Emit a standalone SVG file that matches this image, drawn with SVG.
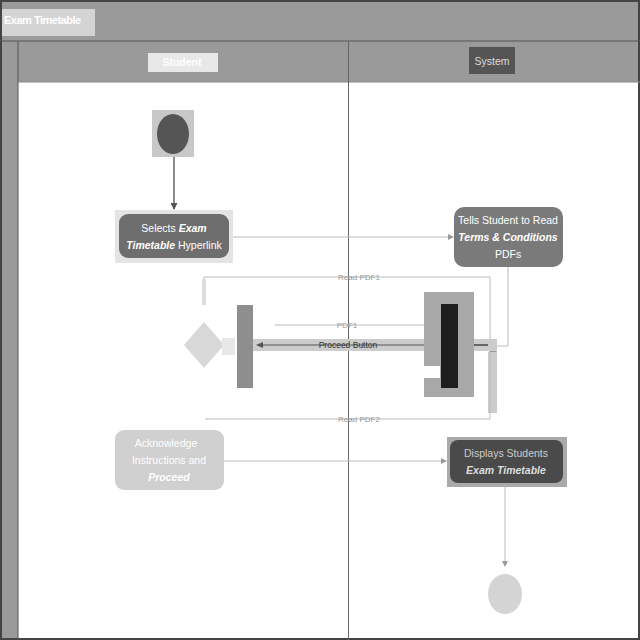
<svg xmlns="http://www.w3.org/2000/svg" width="640" height="640" viewBox="0 0 640 640">
<defs>
<style>
.t{font-family:"Liberation Sans",Arial,sans-serif;font-size:10.5px;text-anchor:middle}
.w{fill:#ffffff}
.bi{font-weight:bold;font-style:italic}
.lbl{font-family:"Liberation Sans",Arial,sans-serif;font-size:8px;fill:#999;text-anchor:middle}
.ln{stroke:#bbb;stroke-width:1;fill:none}
</style>
<marker id="ah" markerWidth="6" markerHeight="6" refX="5" refY="3" orient="auto" markerUnits="userSpaceOnUse"><path d="M0,0 L6,3 L0,6 Z" fill="#999"/></marker>
<marker id="ahg" markerWidth="7" markerHeight="7" refX="6" refY="3.5" orient="auto" markerUnits="userSpaceOnUse"><path d="M0,0 L7,3.5 L0,7 Z" fill="#555"/></marker>
<marker id="ahd" markerWidth="8" markerHeight="8" refX="7" refY="4" orient="auto" markerUnits="userSpaceOnUse"><path d="M0,0 L8,4 L0,8 Z" fill="#222"/></marker>
</defs>
<rect x="0" y="0" width="640" height="640" fill="#9a9a9a"/>
<rect x="18" y="82" width="620" height="556" fill="#ffffff"/>
<rect x="1" y="1" width="638" height="638" fill="none" stroke="#444" stroke-width="2"/>
<line x1="0" y1="41" x2="640" y2="41" stroke="#555" stroke-width="1"/>
<line x1="18" y1="41" x2="18" y2="640" stroke="#555" stroke-width="1"/>
<line x1="18" y1="82" x2="640" y2="82" stroke="#888" stroke-width="1"/>
<line x1="348.5" y1="41" x2="348.5" y2="640" stroke="#666" stroke-width="1"/>
<g id="title"><rect x="2" y="9" width="93" height="27" fill="#d4d4d4"/><text x="4" y="24" font-family="'Liberation Sans',Arial,sans-serif" font-size="11" font-weight="bold" letter-spacing="-0.5" fill="#fff">Exam Timetable</text></g>
<g id="lane-student"><rect x="148" y="53" width="70" height="19" fill="#e8e8e8"/><text class="t w" x="182" y="66" font-size="11" font-weight="bold">Student</text></g>
<g id="lane-system"><rect x="469" y="47" width="46" height="27" fill="#555"/><text class="t" x="492" y="65" font-size="11" fill="#ddd">System</text></g>

<g id="connectors">
<line x1="174" y1="157" x2="174" y2="209" stroke="#666" stroke-width="1.5" marker-end="url(#ahg)"/>
<line class="ln" x1="233" y1="237" x2="453" y2="237" marker-end="url(#ah)"/>
<polyline class="ln" points="204,305 204,277 490,277 490,342"/>
<rect x="202" y="279" width="4" height="26" fill="#ddd"/>
<text class="lbl" x="359" y="280">Read PDF1</text>
<polyline class="ln" points="508,267 508,346 493,346"/>
<path d="M489,340 L497,340 L493,346 Z" fill="#999"/>
<path d="M489,352 L497,352 L493,346 Z" fill="#999"/>
<rect x="488" y="352" width="9" height="61" fill="#ccc"/>
<line class="ln" x1="275" y1="325" x2="440" y2="325"/>
<text class="lbl" x="347" y="328">PDF1</text>
<rect x="253" y="339" width="244" height="12" fill="#ccc"/>
<rect x="424" y="339" width="44" height="12" fill="#777"/>
<line x1="262" y1="345" x2="440" y2="345" stroke="#555" stroke-width="1"/>
<path d="M256,345 L263,342 L263,348 Z" fill="#555"/>
<line x1="488" y1="345" x2="458" y2="345" stroke="#222" stroke-width="1.2" marker-end="url(#ahd)"/>
<text x="348" y="348" font-family="'Liberation Sans',Arial,sans-serif" font-size="8.5" fill="#333" text-anchor="middle">Proceed Button</text>
<polyline class="ln" points="205,419 490,419 490,352"/>
<text class="lbl" x="359" y="422">Read PDF2</text>
<line class="ln" x1="224" y1="461" x2="446" y2="461" marker-end="url(#ah)"/>
<line class="ln" x1="505" y1="487" x2="505" y2="566" marker-end="url(#ah)"/>
</g>

<g id="start"><rect x="152" y="110" width="42" height="47" fill="#c8c8c8"/><ellipse cx="173" cy="134" rx="16" ry="20" fill="#555"/></g>
<g id="selects"><rect x="115" y="210" width="118" height="53" fill="#e4e4e4"/><rect x="119" y="214" width="110" height="44" rx="9" fill="#6e6e6e"/>
<text class="t w" x="174" y="232"><tspan>Selects </tspan><tspan class="bi">Exam</tspan></text>
<text class="t w" x="174" y="249"><tspan class="bi">Timetable</tspan><tspan> Hyperlink</tspan></text></g>
<g id="tells"><rect x="454" y="207" width="109" height="60" rx="10" fill="#7a7a7a"/>
<text class="t w" x="508" y="224">Tells Student to Read</text>
<text class="t w bi" x="508" y="241">Terms &amp; Conditions</text>
<text class="t w" x="508" y="258">PDFs</text></g>
<g id="decision"><path d="M204,322 L224,345 L204,368 L184,345 Z" fill="#d8d8d8"/><rect x="222" y="338" width="13" height="17" fill="#e8e8e8"/></g>
<g id="join"><rect x="237" y="305" width="16" height="83" fill="#8e8e8e"/></g>
<g id="fork"><rect x="424" y="292" width="50" height="105" fill="#a8a8a8"/><rect x="424" y="366" width="16" height="12" fill="#fff"/><rect x="441" y="304" width="17" height="84" fill="#1e1e1e"/></g>
<g id="ack"><rect x="115" y="430" width="109" height="60" rx="9" fill="#d0d0d0"/>
<text class="t w" x="166" y="447">Acknowledge</text>
<text class="t w" x="169" y="464">Instructions and</text>
<text class="t w bi" x="169" y="481">Proceed</text></g>
<g id="displays"><rect x="447" y="437" width="120" height="50" fill="#aaa"/><rect x="450" y="440" width="113" height="43" rx="8" fill="#4a4a4a"/>
<text class="t" x="506" y="457" fill="#ccc">Displays Students</text>
<text class="t bi" x="506" y="474" fill="#ddd">Exam Timetable</text></g>
<g id="end"><ellipse cx="505" cy="594" rx="17" ry="20" fill="#d4d4d4"/></g>
</svg>
